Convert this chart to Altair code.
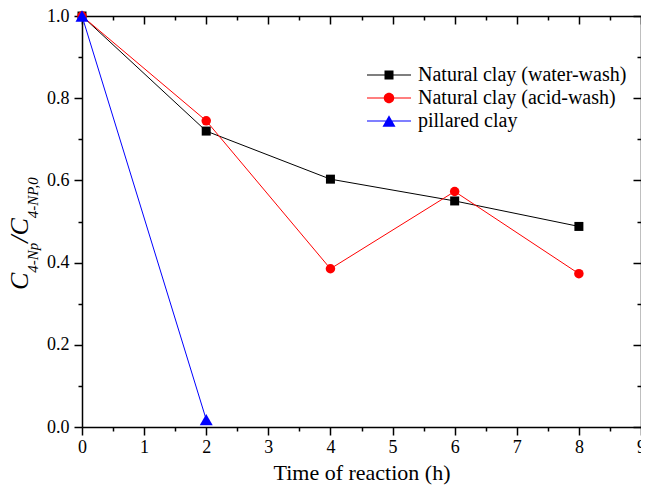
import altair as alt
import pandas as pd

# ---- data ----
hours = [0, 2, 4, 6, 8]
water_wash = [1.0, 0.72, 0.603, 0.55, 0.488]
acid_wash = [1.0, 0.745, 0.385, 0.573, 0.373]
pillared_hours = [0, 2]
pillared = [1.0, 0.018]

series_names = ["Natural clay (water-wash)", "Natural clay (acid-wash)", "pillared clay"]
series_colors = ["#000000", "#ff0000", "#0000ff"]
series_shapes = ["square", "circle", "triangle-up"]
series_sizes = [81, 90, 169]

x_ticks = [i * 0.5 for i in range(19)]
y_ticks = [round(i * 0.1, 1) for i in range(11)]

rows = []
for h, v in zip(hours, water_wash):
    rows.append({"t": h, "c": v, "series": series_names[0]})
for h, v in zip(hours, acid_wash):
    rows.append({"t": h, "c": v, "series": series_names[1]})
for h, v in zip(pillared_hours, pillared):
    rows.append({"t": h, "c": v, "series": series_names[2]})
df = pd.DataFrame(rows)

FONT = "Liberation Serif, Times New Roman, Tinos, DejaVu Serif, serif"
W, H = 559, 411

x_scale = alt.Scale(domain=[0, 9], nice=False, zero=False)
y_scale = alt.Scale(domain=[0, 1.0], nice=False, zero=False)
color_scale = alt.Scale(domain=series_names, range=series_colors)

maj_x = "(datum.value % 1 === 0)"
maj_y = "(round(datum.value * 10) % 2 === 0)"

common = dict(grid=False, domainColor="black", domainWidth=1.5, tickColor="black",
              tickWidth=1.5, labelFlush=False, labelOverlap=False)

ax_bottom = alt.Axis(orient="bottom", values=x_ticks, title="Time of reaction (h)",
                     tickSize={"expr": f"{maj_x} ? 8 : 4"},
                     labelExpr=f"{maj_x} ? format(datum.value, 'd') : ''",
                     labelFont=FONT, labelFontSize=18, labelColor="black", labelPadding=3,
                     titleFont=FONT, titleFontSize=22, titleFontWeight="normal",
                     titleColor="black", titlePadding=6, **common)
ax_top = alt.Axis(orient="top", values=x_ticks, title=None, labels=False,
                  tickSize={"expr": f"{maj_x} ? -8 : -4"}, **common)
ax_left = alt.Axis(orient="left", values=y_ticks, title=None,
                   tickSize={"expr": f"{maj_y} ? 8 : 4"},
                   labelExpr=f"{maj_y} ? format(datum.value, '.1f') : ''",
                   labelFont=FONT, labelFontSize=18, labelColor="black", labelPadding=5,
                   **common)
ax_right = alt.Axis(orient="right", values=y_ticks, title=None, labels=False,
                    tickSize={"expr": f"{maj_y} ? -8 : -4"}, **common)

# legend symbols: short line with the marker on it (path units = 5 px)
bar = "M-4.4,-0.1H4.4V0.1H-4.4Z "
legend_paths = [
    bar + "M-0.9,-0.9H0.9V0.9H-0.9Z",
    bar + "M-1.05,0A1.05,1.05 0 1,1 1.05,0A1.05,1.05 0 1,1 -1.05,0Z",
    bar + "M0,-1.13L1.3,1.13L-1.3,1.13Z",
]
sym_expr = (f"datum.value === '{series_names[0]}' ? '{legend_paths[0]}' : "
            f"datum.value === '{series_names[1]}' ? '{legend_paths[1]}' : '{legend_paths[2]}'")

legend = alt.Legend(title=None, orient="none", legendX=297, legendY=49, padding=0,
                    labelFont=FONT, labelFontSize=20, labelColor="black", labelLimit=400,
                    labelOffset=19, rowPadding=3, symbolSize=100, symbolStrokeWidth=0,
                    symbolType={"expr": sym_expr})

layers = []
for i, name in enumerate(series_names):
    base = alt.Chart(df).transform_filter(alt.datum.series == name)
    if i == 0:
        xl = alt.X("t:Q", scale=x_scale, axis=ax_bottom)
        yl = alt.Y("c:Q", scale=y_scale, axis=ax_left)
        xp = alt.X("t:Q", scale=x_scale, axis=ax_top)
        yp = alt.Y("c:Q", scale=y_scale, axis=ax_right)
    else:
        xl = xp = alt.X("t:Q", scale=x_scale, axis=None)
        yl = yp = alt.Y("c:Q", scale=y_scale, axis=None)
    line = base.mark_line(color=series_colors[i], strokeWidth=1).encode(x=xl, y=yl)
    pts = base.mark_point(filled=True, opacity=1, shape=series_shapes[i],
                          size=series_sizes[i], strokeWidth=0).encode(
        x=xp, y=yp,
        color=alt.Color("series:N", scale=color_scale, legend=legend if i == 0 else None),
    )
    layers += [line, pts]

# y-axis title with subscripts: C_{4-Np}/C_{4-NP,0}  (rotated, read bottom to top)
title_parts = [("C", 26, -54, 274), ("4-Np", 15, -44, 256.7), ("/", 26, -54, 226.7),
               ("C", 26, -54, 219.5), ("4-NP,0", 15, -44, 202.2)]
one = alt.Data(values=[{}])
for txt, fs, px, py in title_parts:
    layers.append(
        alt.Chart(one).mark_text(font=FONT, fontSize=fs, fontStyle="italic", angle=270,
                                 align="left", baseline="alphabetic", color="black")
        .encode(x=alt.value(px), y=alt.value(py), text=alt.value(txt))
    )

chart = (
    alt.layer(*layers)
    .resolve_axis(x="independent", y="independent")
    .properties(width=W, height=H, autosize=alt.AutoSizeParams(type="none"),
                padding={"left": 74, "top": 8, "right": 0, "bottom": 58},
                background="white")
    .configure_view(stroke=None)
)

chart.save("out.html", embed_options={"renderer": "svg", "actions": False})
